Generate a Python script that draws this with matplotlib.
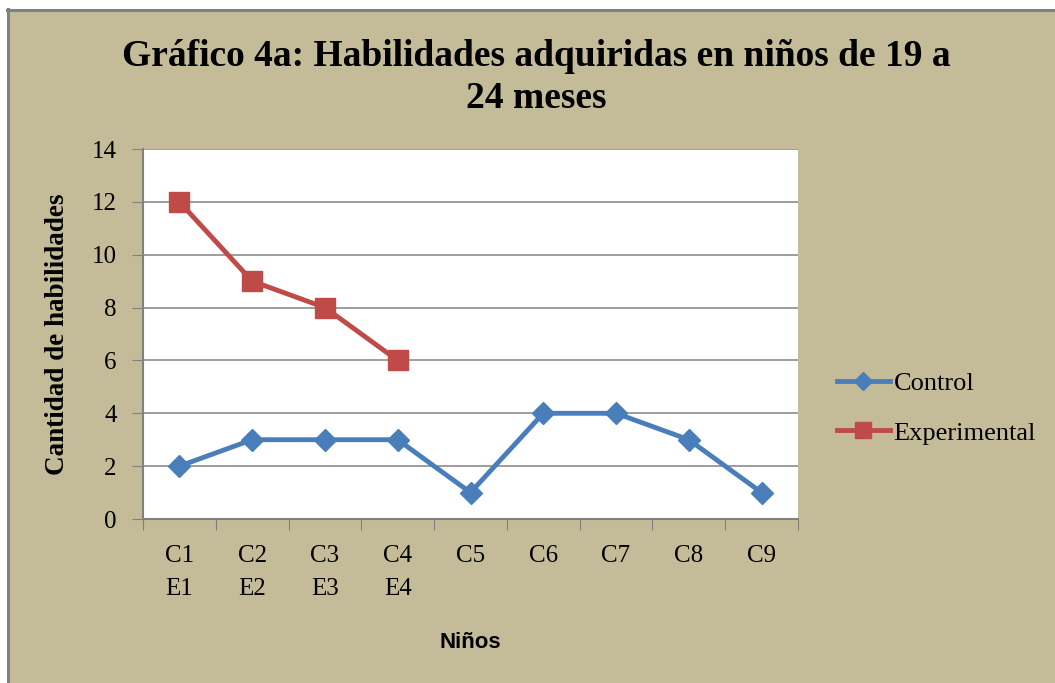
import numpy as np
import matplotlib.pyplot as plt
from matplotlib.patches import Rectangle

# Data
categories = ["C1\nE1", "C2\nE2", "C3\nE3", "C4\nE4", "C5", "C6", "C7", "C8", "C9"]
control = [2, 3, 3, 3, 1, 4, 4, 3, 1]
experimental = [12, 9, 8, 6]
y_ticks = [0, 2, 4, 6, 8, 10, 12, 14]

bg = "#C4BC98"
blue = "#4A7EBB"
red = "#BE4B48"
serif = "Liberation Serif"

W, H = 1055, 683
fig = plt.figure(figsize=(W / 100, H / 100), dpi=100, facecolor="white")

# Tan chart area with grey border on top and left
fig.patches.append(Rectangle((7 / W, 0), 1, 1 - 9 / H, transform=fig.transFigure,
                             facecolor=bg, edgecolor="none", zorder=-10))
fig.add_artist(plt.Line2D([8 / W, 8 / W], [0, 1 - 9 / H], color="#808080", lw=2.2,
                          transform=fig.transFigure, zorder=-5))
fig.add_artist(plt.Line2D([7 / W, 1], [1 - 10 / H, 1 - 10 / H], color="#808080", lw=2.2,
                          transform=fig.transFigure, zorder=-5))

left, right, top, bottom = 143, 798, 149, 519
ax = fig.add_axes([left / W, 1 - bottom / H, (right - left) / W, (bottom - top) / H])
ax.set_facecolor("white")

# Category positions are at the centre of each slot
x = np.arange(len(categories)) + 0.5
ax.plot(x, control, color=blue, lw=3.5, marker="D", markersize=11, label="Control", zorder=3)
ax.plot(x[:len(experimental)], experimental, color=red, lw=3.5, marker="s", markersize=14,
        label="Experimental", zorder=3)

ax.set_xlim(0, len(categories))
ax.set_ylim(0, 14)
ax.set_yticks(y_ticks)
ax.set_yticklabels([str(v) for v in y_ticks], fontfamily=serif, fontsize=18)
ax.set_xticks(np.arange(len(categories) + 1))
ax.set_xticklabels([])
ax.set_xticks(x, minor=True)
ax.set_xticklabels(categories, minor=True, fontfamily=serif, fontsize=18, linespacing=1.6,
                   va="top")
ax.tick_params(axis="x", which="minor", length=0, pad=19)
ax.tick_params(axis="x", which="major", length=8, color="#808080", direction="out")
ax.tick_params(axis="y", length=8, color="#808080", direction="out", pad=11)

ax.grid(axis="y", color="#8C8C8C", lw=1.2)
ax.set_axisbelow(True)
for side in ["top", "right"]:
    ax.spines[side].set_visible(False)
for side in ["left", "bottom"]:
    ax.spines[side].set_color("#808080")
    ax.spines[side].set_linewidth(1.5)

ax.set_ylabel("Cantidad de habilidades", fontfamily=serif, fontweight="bold", fontsize=19.5)
ax.yaxis.set_label_coords((58 - left) / (right - left), 0.5)
ax.set_xlabel("Niños", fontfamily="Liberation Sans", fontweight="bold", fontsize=16)
ax.xaxis.set_label_coords(0.5, -(642 - bottom) / (bottom - top))
ax.xaxis.label.set_va("center")
ax.yaxis.label.set_va("center")

fig.text(536 / W, 1 - 57 / H, "Gráfico 4a: Habilidades adquiridas en niños de 19 a",
         ha="center", va="center", fontfamily=serif, fontweight="bold", fontsize=27)
fig.text(536 / W, 1 - 99 / H, "24 meses",
         ha="center", va="center", fontfamily=serif, fontweight="bold", fontsize=27)

leg = fig.legend(loc="center left", bbox_to_anchor=(813 / W, 1 - 408 / H), frameon=False,
                 prop={"family": serif, "size": 19}, handlelength=2.0, labelspacing=1.0,
                 handletextpad=0.15, markerscale=0.8)

fig.savefig("out.png", dpi=100, facecolor=fig.get_facecolor())
